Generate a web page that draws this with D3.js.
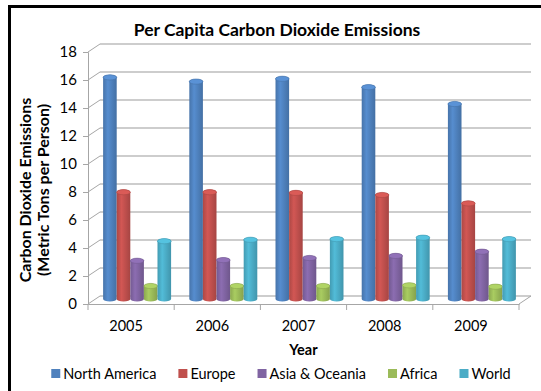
<!DOCTYPE html>
<html>
<head>
<meta charset="utf-8">
<script src="https://cdn.jsdelivr.net/npm/d3@7"></script>
<style>
  body { margin: 0; background: #fff; }
  text { font-family: Lato, "Liberation Sans", sans-serif; fill: #000; }
</style>
</head>
<body>
<script>
const years = ['2005', '2006', '2007', '2008', '2009'];
const series = ['North America', 'Europe', 'Asia & Oceania', 'Africa', 'World'];
const colors = ['#4F81BD', '#C0504D', '#8064A2', '#9BBB59', '#4BACC6'];
const northAmerica = [15.9, 15.6, 15.8, 15.2, 14.0];
const europe = [7.7, 7.7, 7.65, 7.5, 6.9];
const asiaOceania = [2.8, 2.85, 3.0, 3.15, 3.45];
const africa = [1.0, 1.0, 1.0, 1.05, 0.95];
const world = [4.2, 4.3, 4.35, 4.45, 4.35];
const yTicks = [0, 2, 4, 6, 8, 10, 12, 14, 16, 18];

const values = [northAmerica, europe, asiaOceania, africa, world];

const width = 541;
const height = 391;
// depth of the 3d box: back wall is shifted right and up
const dx = 12, dy = -8;

const svg = d3.select('body')
  .append('svg')
  .attr('width', width)
  .attr('height', height);

// gradients for the cylinders
const defs = svg.append('defs');
colors.forEach((c, i) => {
  const g = defs.append('linearGradient')
    .attr('id', 'cyl' + i)
    .attr('x1', '0%').attr('x2', '100%')
    .attr('y1', '0%').attr('y2', '0%');
  g.append('stop').attr('offset', '0%').attr('stop-color', d3.color(c).darker(0.3));
  g.append('stop').attr('offset', '35%').attr('stop-color', d3.color(c).brighter(0.25));
  g.append('stop').attr('offset', '100%').attr('stop-color', d3.color(c).darker(0.4));
});

const xScale = d3.scaleBand()
  .domain(years)
  .range([88, 519]);

const yScale = d3.scaleLinear()
  .domain([0, 18])
  .range([304, 52]);

const xSeries = d3.scaleBand()
  .domain(series)
  .range([0, xScale.bandwidth()])
  .paddingOuter(0.67);

// back wall grid
svg.append('g')
  .selectAll('line')
  .data(yTicks)
  .enter()
  .append('line')
  .attr('x1', xScale.range()[0] + dx)
  .attr('x2', xScale.range()[1] + dx)
  .attr('y1', d => yScale(d) + dy)
  .attr('y2', d => yScale(d) + dy)
  .attr('stroke', '#bdbdbd')
  .attr('stroke-width', 1.3);

// side wall diagonals
svg.append('g')
  .selectAll('line')
  .data(yTicks)
  .enter()
  .append('line')
  .attr('x1', xScale.range()[0])
  .attr('x2', xScale.range()[0] + dx)
  .attr('y1', d => yScale(d))
  .attr('y2', d => yScale(d) + dy)
  .attr('stroke', '#a6a6a6')
  .attr('stroke-width', 1);

// floor right edge
svg.append('line')
  .attr('x1', xScale.range()[1]).attr('y1', yScale(0))
  .attr('x2', xScale.range()[1] + dx).attr('y2', yScale(0) + dy)
  .attr('stroke', '#a6a6a6');

// y axis
const yAxis = d3.axisLeft(yScale)
  .tickValues(yTicks)
  .tickSize(5)
  .tickPadding(6);

const yG = svg.append('g')
  .attr('transform', `translate(${xScale.range()[0]}, 0)`)
  .call(yAxis);
yG.select('.domain').attr('stroke', '#a6a6a6');
yG.selectAll('.tick line').attr('stroke', '#a6a6a6');
yG.selectAll('.tick text')
  .style('font-size', '15px')
  .attr('fill', '#000');

// x axis
const xAxis = d3.axisBottom(xScale).tickSize(0).tickPadding(17);
const xG = svg.append('g')
  .attr('transform', `translate(0, ${yScale(0)})`)
  .call(xAxis);
xG.select('.domain').attr('stroke', '#a6a6a6');
xG.selectAll('.tick text')
  .attr('dx', -5)
  .style('font-size', '14.5px')
  .attr('fill', '#000');

// category separators
svg.append('g')
  .selectAll('line')
  .data(years.concat(['end']))
  .enter()
  .append('line')
  .attr('x1', d => d === 'end' ? xScale.range()[1] : xScale(d))
  .attr('x2', d => d === 'end' ? xScale.range()[1] : xScale(d))
  .attr('y1', yScale(0))
  .attr('y2', yScale(0) + 6)
  .attr('stroke', '#a6a6a6');

// cylinders, drawn at half depth
const mx = dx / 2, my = dy / 2;
const rows = [];
years.forEach((yr, i) => {
  series.forEach((s, j) => {
    rows.push({ year: yr, s: s, j: j, v: values[j][i] });
  });
});

const bw = xSeries.bandwidth();
const ry = 2.6;
const bars = svg.append('g')
  .selectAll('g')
  .data(rows)
  .enter()
  .append('g');

bars.append('path')
  .attr('d', d => {
    const x = xScale(d.year) + mx + xSeries(d.s);
    const yt = yScale(d.v) + my;
    const yb = yScale(0) + my - 1;
    const rx = bw / 2;
    return `M${x},${yt} L${x},${yb} A${rx},${ry} 0 0 0 ${x + bw},${yb} L${x + bw},${yt} A${rx},${ry} 0 0 0 ${x},${yt} Z`;
  })
  .attr('fill', d => `url(#cyl${d.j})`);

bars.append('ellipse')
  .attr('cx', d => xScale(d.year) + mx + xSeries(d.s) + bw / 2)
  .attr('cy', d => yScale(d.v) + my)
  .attr('rx', bw / 2)
  .attr('ry', ry)
  .attr('fill', d => d3.color(colors[d.j]).brighter(0.35))
  .attr('stroke', d => d3.color(colors[d.j]).darker(0.3))
  .attr('stroke-width', 0.6);

// titles
svg.append('text')
  .attr('x', 277)
  .attr('y', 36)
  .attr('text-anchor', 'middle')
  .style('font-size', '17.5px')
  .style('font-weight', 'bold')
  .text('Per Capita Carbon Dioxide Emissions');

svg.append('text')
  .attr('x', (xScale.range()[0] + xScale.range()[1]) / 2)
  .attr('y', 355)
  .attr('text-anchor', 'middle')
  .style('font-size', '14.5px')
  .style('font-weight', 'bold')
  .text('Year');

const yTitle = svg.append('text')
  .attr('transform', 'translate(31, 190) rotate(-90)')
  .attr('text-anchor', 'middle')
  .style('font-size', '16px')
  .style('font-weight', 'bold');
yTitle.append('tspan').attr('x', 0).attr('y', 0).text('Carbon Dioxide Emissions');
yTitle.append('tspan').attr('x', 0).attr('y', 18).text('(Metric Tons per Person)');

// legend
const legend = svg.append('g');
let lx = 0;
const items = legend.selectAll('g')
  .data(series)
  .enter()
  .append('g');
items.append('rect')
  .attr('width', 9).attr('height', 9)
  .attr('y', -5)
  .attr('fill', (d, i) => colors[i]);
items.append('text')
  .attr('x', 12)
  .attr('y', 5)
  .style('font-size', '14.5px')
  .text(d => d);
items.each(function () {
  const w = this.querySelector('text').getComputedTextLength();
  d3.select(this).attr('transform', `translate(${lx}, 0)`);
  lx += 12 + w + 22;
});
legend.attr('transform', `translate(${281 - (lx - 22) / 2}, 374)`);

// border
svg.append('path')
  .attr('d', `M9.5,${height} L9.5,6.5 L${width},6.5`)
  .attr('fill', 'none')
  .attr('stroke', '#000')
  .attr('stroke-width', 3);
</script>
</body>
</html>
